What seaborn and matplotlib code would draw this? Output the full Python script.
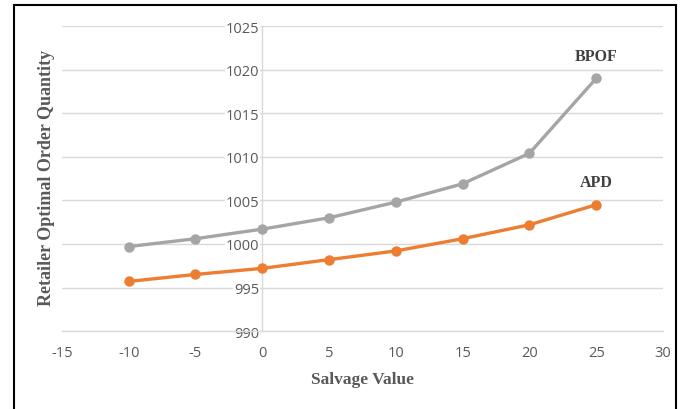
import pandas as pd
import matplotlib.pyplot as plt
import seaborn as sns
from matplotlib.patches import Rectangle

# data
salvage = [-10, -5, 0, 5, 10, 15, 20, 25]
bpof = [999.7, 1000.6, 1001.7, 1003.0, 1004.8, 1006.9, 1010.4, 1019.0]
apd = [995.7, 996.5, 997.2, 998.2, 999.2, 1000.6, 1002.2, 1004.5]
series_names = ["BPOF", "APD"]

df = pd.DataFrame({
    "Salvage Value": salvage * 2,
    "Quantity": bpof + apd,
    "Model": ["BPOF"] * len(salvage) + ["APD"] * len(salvage),
})

sns.set_theme(style="white")
plt.rcParams["font.family"] = ["Open Sans", "DejaVu Sans"]
plt.rcParams["axes.unicode_minus"] = False
palette = {"BPOF": "#A5A5A5", "APD": "#ED7D31"}
tick_color = "#595959"
grid_color = "#D9D9D9"

fig = plt.figure(figsize=(6.8, 4.1), dpi=100)
ax = fig.add_axes([0.091, 0.19, 0.884, 0.744])

sns.lineplot(data=df, x="Salvage Value", y="Quantity", hue="Model",
             palette=palette, marker="o", markersize=7.5, markeredgewidth=0,
             linewidth=2.4, ax=ax, legend=False, zorder=3)

ax.set_xlim(-15, 30)
ax.set_ylim(990, 1025)
ax.set_xticks(range(-15, 31, 5))
ax.set_yticks(range(990, 1026, 5))
ax.set_ylabel("")

# horizontal gridlines, y axis sits at x = 0
ax.yaxis.grid(True, color=grid_color, linewidth=1)
ax.xaxis.grid(False)
for side in ["top", "right"]:
    ax.spines[side].set_visible(False)
ax.spines["left"].set_position(("data", 0))
ax.spines["left"].set_color(grid_color)
ax.spines["left"].set_linewidth(1)
ax.spines["left"].set_zorder(1)
ax.spines["bottom"].set_color(grid_color)
ax.spines["bottom"].set_linewidth(1)

ax.tick_params(axis="both", length=0, labelsize=10.5, labelcolor=tick_color)
ax.tick_params(axis="x", pad=10)
ax.tick_params(axis="y", pad=2)
for lbl in ax.get_yticklabels():
    lbl.set_bbox(dict(facecolor="white", edgecolor="none", pad=0.5))
    lbl.set_zorder(2)

serif = ["Liberation Serif", "DejaVu Serif"]
ax.set_xlabel("Salvage Value", family=serif, fontsize=12.5, fontweight="bold",
              color=tick_color, labelpad=8)
fig.text(0.069, 0.565, "Retailer Optimal Order Quantity", family=serif,
         fontsize=13, fontweight="bold", color=tick_color,
         rotation=90, ha="center", va="center")

# series labels
ax.text(salvage[-1], bpof[-1] + 2.1, series_names[0], family=serif,
        fontsize=11.5, fontweight="bold", color="#404040", ha="center")
ax.text(salvage[-1], apd[-1] + 2.1, series_names[1], family=serif,
        fontsize=11.5, fontweight="bold", color="#404040", ha="center")

# outer frame around the chart
fig.patches.append(Rectangle((14 / 680, -0.01), 662 / 680, 1 - 6 / 410 + 0.01,
                             transform=fig.transFigure, fill=False,
                             edgecolor="black", linewidth=1.5))

plt.savefig("out.png", dpi=100)
